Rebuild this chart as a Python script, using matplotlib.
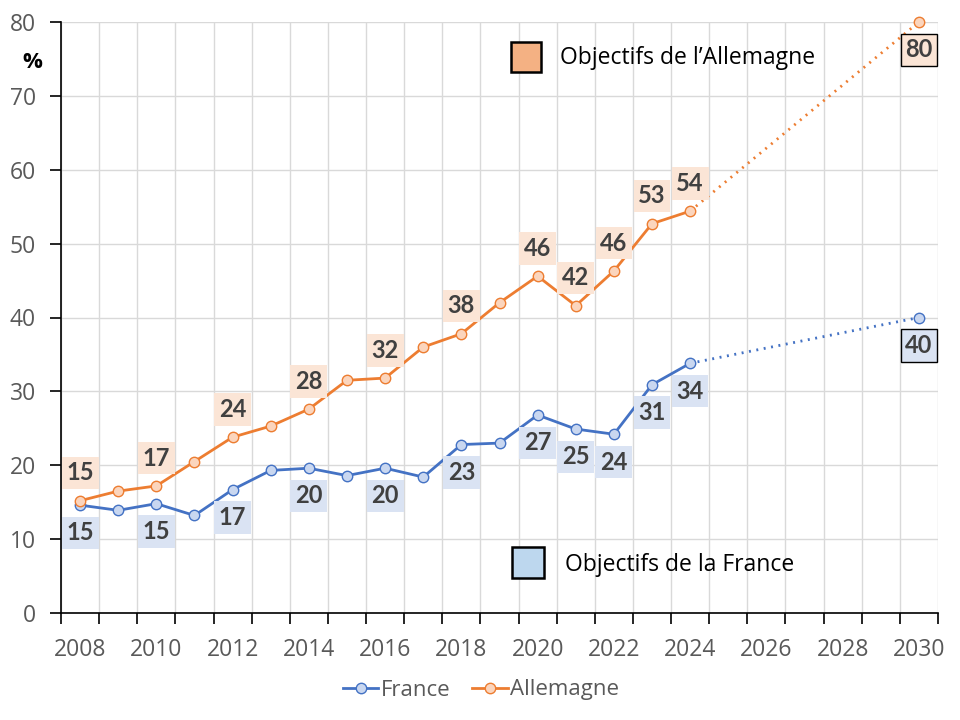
import numpy as np
import matplotlib
matplotlib.use("Agg")
import matplotlib.pyplot as plt
from matplotlib.patches import Rectangle
from matplotlib.lines import Line2D

plt.rcParams['font.family'] = ['Open Sans', 'DejaVu Sans']

years = list(range(2008, 2025))
france = [14.6, 13.9, 14.8, 13.2, 16.7, 19.3, 19.6, 18.6, 19.6, 18.4, 22.8, 23.0, 26.8, 24.9, 24.2, 30.9, 33.8]
allemagne = [15.2, 16.5, 17.2, 20.5, 23.8, 25.3, 27.6, 31.5, 31.8, 36.0, 37.8, 42.0, 45.6, 41.6, 46.3, 52.7, 54.4]
target_year = 2030
france_target = 40
allemagne_target = 80
label_years = [2008, 2010, 2012, 2014, 2016, 2018, 2020, 2021, 2022, 2023, 2024]

c_fr = '#4472C4'
c_de = '#ED7D31'
mf_fr = '#C9D7F0'
mf_de = '#FBD5BD'
box_fr = '#DAE3F3'
box_de = '#FBE5D6'
txt_c = '#404040'

fig = plt.figure(figsize=(9.6, 7.2), dpi=100)
ax = fig.add_axes([61/960, 1-613/720, 877/960, 591/720])

lw = 2.0
ms = 7.5
dots = (0, (0.7, 2.0))
ax.plot(years, france, color=c_fr, lw=lw, marker='o', ms=ms, mfc=mf_fr, mec=c_fr, mew=1, zorder=3)
ax.plot(years, allemagne, color=c_de, lw=lw, marker='o', ms=ms, mfc=mf_de, mec=c_de, mew=1, zorder=3)
ax.plot([years[-1], target_year], [france[-1], france_target], color=c_fr, lw=lw, ls=dots, zorder=2)
ax.plot([years[-1], target_year], [allemagne[-1], allemagne_target], color=c_de, lw=lw, ls=dots, zorder=2)
ax.plot([target_year], [france_target], marker='o', ms=ms, mfc=mf_fr, mec=c_fr, mew=1, ls='none', zorder=4, clip_on=False)
ax.plot([target_year], [allemagne_target], marker='o', ms=ms, mfc=mf_de, mec=c_de, mew=1, ls='none', zorder=4, clip_on=False)

off = 20
lab_kw = dict(textcoords='offset points', ha='center', va='center', fontsize=17,
              fontweight='bold', color=txt_c, family=['Lato', 'DejaVu Sans'], annotation_clip=False, zorder=5)
for yr, v in zip(years, allemagne):
    if yr in label_years:
        ax.annotate(f"{round(v)}", xy=(yr, v), xytext=(0, off),
                    bbox=dict(boxstyle='square,pad=0.2', fc=box_de, ec='none'), **lab_kw)
for yr, v in zip(years, france):
    if yr in label_years:
        ax.annotate(f"{round(v)}", xy=(yr, v), xytext=(0, -off),
                    bbox=dict(boxstyle='square,pad=0.2', fc=box_fr, ec='none'), **lab_kw)
ax.annotate(f"{allemagne_target}", xy=(target_year, allemagne_target), xytext=(0, -off),
            bbox=dict(boxstyle='square,pad=0.2', fc=box_de, ec='black', lw=1), **lab_kw)
ax.annotate(f"{france_target}", xy=(target_year, france_target), xytext=(0, -off),
            bbox=dict(boxstyle='square,pad=0.2', fc=box_fr, ec='black', lw=1), **lab_kw)

ax.set_xlim(2007.5, 2030.5)
ax.set_ylim(0, 80)
ax.set_xticks(np.arange(2007.5, 2031, 1))
ax.set_xticklabels([])
ax.set_xticks(np.arange(2008, 2031, 2), minor=True)
ax.set_xticklabels([str(y) for y in range(2008, 2031, 2)], minor=True)
ax.set_yticks(range(0, 81, 10))
ax.tick_params(axis='x', which='major', length=8, width=1.2, direction='out', color='black')
ax.tick_params(axis='x', which='minor', length=0, pad=18, labelsize=16.5, labelcolor='#595959')
ax.tick_params(axis='y', length=8, width=1.2, direction='out', color='black', pad=10, labelsize=16.5, labelcolor='#595959')
ax.grid(True, which='major', color='#D9D9D9', lw=1)
ax.set_axisbelow(True)
for s in ['top', 'right']:
    ax.spines[s].set_visible(False)
for s in ['left', 'bottom']:
    ax.spines[s].set_color('black')
    ax.spines[s].set_linewidth(1.2)

fig.text(32/960, 1-62/720, '%', ha='center', va='center', fontsize=16, fontweight='bold', color='black')

ax.add_patch(Rectangle((0.513, 0.915), 0.0342, 0.0508, transform=ax.transAxes, fc='#F4B183', ec='black', lw=1.8, clip_on=False, zorder=6))
ax.text(0.569, 0.939, "Objectifs de l\u2019Allemagne", transform=ax.transAxes, ha='left', va='center', fontsize=16.5, color='black')
ax.add_patch(Rectangle((0.514, 0.0592), 0.0365, 0.0525, transform=ax.transAxes, fc='#BDD7EE', ec='black', lw=1.8, clip_on=False, zorder=6))
ax.text(0.575, 0.081, "Objectifs de la France", transform=ax.transAxes, ha='left', va='center', fontsize=16.5, color='black')

handles = [Line2D([], [], color=c_fr, lw=lw, marker='o', ms=ms, mfc=mf_fr, mec=c_fr, mew=1),
           Line2D([], [], color=c_de, lw=lw, marker='o', ms=ms, mfc=mf_de, mec=c_de, mew=1)]
fig.legend(handles, ['France', 'Allemagne'], loc='center', bbox_to_anchor=(481/960, 1-690/720), ncol=2,
           frameon=False, fontsize=16, labelcolor='#595959', handlelength=1.6, handletextpad=0.1, columnspacing=1.0)

fig.savefig('out.png', dpi=100)
